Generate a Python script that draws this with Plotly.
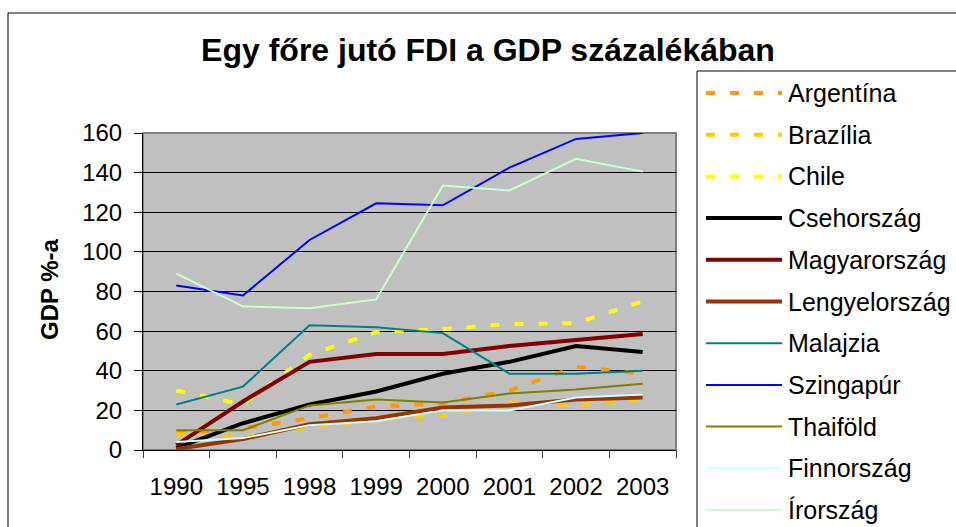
import plotly.graph_objects as go

years = ["1990", "1995", "1998", "1999", "2000", "2001", "2002", "2003"]

argentina = [8.5, 11, 16, 22, 23.5, 30, 42, 38.5]
brazilia = [8, 6.5, 11.5, 15.5, 17.5, 24, 22.5, 25.5]
chile = [30, 23, 48, 59.5, 61, 63.5, 64, 75]
csehorszag = [1, 13.5, 23, 29.5, 38.5, 44.5, 52.5, 49.5]
magyarorszag = [2.5, 24.5, 44.5, 48.5, 48.5, 52.5, 55.5, 58.5]
lengyelorszag = [0.5, 5.5, 13, 16, 21.5, 22.5, 25.5, 26.5]
malajzia = [23, 32, 63, 62, 59, 38.5, 38.5, 40]
szingapur = [83, 78, 106, 124.5, 123.5, 142.5, 157, 160]
thaifold = [10, 10, 22.5, 25.5, 24, 28.5, 30.5, 33.5]
finnorszag = [4, 6, 12.5, 14.5, 20, 20, 26.5, 28]
irorszag = [89, 72.5, 71.5, 76, 133.5, 131, 147, 140.5]

series_names = ["Argentína", "Brazília", "Chile", "Csehország", "Magyarország",
                "Lengyelország", "Malajzia", "Szingapúr", "Thaiföld", "Finnország", "Írország"]
series_values = [argentina, brazilia, chile, csehorszag, magyarorszag,
                 lengyelorszag, malajzia, szingapur, thaifold, finnorszag, irorszag]

styles = [
    dict(color="#FF9900", width=4, dash="9px,15px"),
    dict(color="#FFCC00", width=4, dash="9px,15px"),
    dict(color="#FFFF00", width=4, dash="9px,15px"),
    dict(color="#000000", width=4, dash="solid"),
    dict(color="#800000", width=4, dash="solid"),
    dict(color="#993300", width=4, dash="solid"),
    dict(color="#008080", width=2, dash="solid"),
    dict(color="#0000FF", width=2, dash="solid"),
    dict(color="#808000", width=2, dash="solid"),
    dict(color="#CCFFFF", width=2, dash="solid"),
    dict(color="#CCFFCC", width=2, dash="solid"),
]

FONT = "Liberation Sans, Arial, sans-serif"

FIG_W, FIG_H = 956, 527

fig = go.Figure()
for name, vals, st in zip(series_names, series_values, styles):
    fig.add_trace(go.Scatter(
        x=years, y=vals, name=name, mode="lines", showlegend=False,
        line=dict(color=st["color"], width=st["width"], dash=st["dash"]),
    ))

# plot area in page pixels
PL, PT, PR, PB = 143, 133, 676, 450
W, H = PR - PL, PB - PT


def px_x(x):
    return (x - PL) / W


def px_y(y):
    return (PB - y) / H


shapes = [
    # outer chart border
    dict(type="rect", xref="paper", yref="paper",
         x0=px_x(8), x1=1.8, y0=-0.6, y1=px_y(13),
         line=dict(color="black", width=1), fillcolor="rgba(0,0,0,0)", layer="below"),
    # plot area frame
    dict(type="rect", xref="x domain", yref="y domain", x0=0, x1=1, y0=0, y1=1,
         line=dict(color="#808080", width=2), layer="below"),
    # legend box
    dict(type="rect", xref="paper", yref="paper",
         x0=px_x(697), x1=1.8, y0=-0.6, y1=px_y(71),
         line=dict(color="black", width=1), fillcolor="white", layer="above"),
]

annotations = [dict(
    text="<b>GDP %-a</b>", textangle=-90, showarrow=False,
    xref="paper", yref="paper", x=px_x(49), y=px_y(289),
    xanchor="center", yanchor="middle",
    font=dict(family=FONT, size=24, color="black"),
)]

# legend (drawn manually so it can run past the page edge like the reference)
for i, (name, st) in enumerate(zip(series_names, styles)):
    yy = 93 + 41.7 * i
    shapes.append(dict(
        type="line", xref="paper", yref="paper",
        x0=px_x(706), x1=px_x(782), y0=px_y(yy), y1=px_y(yy),
        line=dict(color=st["color"], width=st["width"], dash=st["dash"]),
        layer="above",
    ))
    annotations.append(dict(
        text=name, showarrow=False, xref="paper", yref="paper",
        x=px_x(786), y=px_y(yy), xanchor="left", yanchor="middle",
        font=dict(family=FONT, size=25, color="black"),
    ))

fig.update_layout(
    width=FIG_W, height=FIG_H,
    margin=dict(l=PL, r=FIG_W - PR, t=PT, b=FIG_H - PB, pad=0, autoexpand=False),
    paper_bgcolor="white",
    plot_bgcolor="#C0C0C0",
    font=dict(family=FONT, size=24, color="black"),
    title=dict(text="<b>Egy főre jutó FDI a GDP százalékában</b>",
               font=dict(family=FONT, size=32, color="black"),
               xref="container", yref="container",
               x=488 / FIG_W, y=1 - 50 / FIG_H,
               xanchor="center", yanchor="middle"),
    showlegend=False,
    xaxis=dict(
        type="category", range=[-0.5, 7.5], tickson="boundaries",
        ticks="outside", ticklen=7, tickcolor="#404040", tickwidth=1,
        showline=True, linecolor="black", linewidth=1,
        showgrid=False, ticklabelstandoff=15,
        tickfont=dict(family=FONT, size=24, color="black"),
    ),
    yaxis=dict(
        range=[0, 160], dtick=20, tick0=0,
        ticks="outside", ticklen=8, tickcolor="black", tickwidth=1,
        showline=True, linecolor="black", linewidth=1,
        showgrid=True, gridcolor="black", gridwidth=1,
        zeroline=False, ticklabelstandoff=7,
        tickfont=dict(family=FONT, size=24, color="black"),
    ),
    annotations=annotations,
    shapes=shapes,
)

# remove the browser's default body margin so the figure fills the window exactly
fig.write_html(
    "out.html",
    config={"displayModeBar": False},
    post_script="document.body.style.margin='0';document.body.style.overflow='hidden';",
)
